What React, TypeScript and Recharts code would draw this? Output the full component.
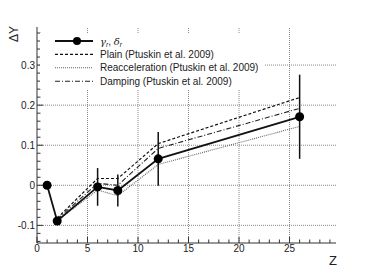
import React from 'react'
import { ComposedChart, Line, XAxis, YAxis, ReferenceLine, ErrorBar, Legend } from 'recharts'

// measured points (gamma, delta fit) with symmetric errors
const Z_DATA = [1, 2, 6, 8, 12, 26]
const DY_DATA = [0, -0.089, -0.004, -0.013, 0.066, 0.171]
const DY_ERR = [0, 0, 0.047, 0.04, 0.067, 0.105]

// Ptuskin et al. 2009 model curves
const Z_MODEL = [2, 6, 8, 12, 26]
const PLAIN = [-0.082, 0.017, 0.017, 0.104, 0.219]
const REACC = [-0.088, -0.012, -0.026, 0.052, 0.147]
const DAMPING = [-0.085, 0.005, 0.0, 0.092, 0.192]

const X_MAJOR = [0, 5, 10, 15, 20, 25]
const X_TICKS = Array.from({ length: 30 }, (_, i) => i)
const Y_MAJOR = [-0.1, 0, 0.1, 0.2, 0.3]
const Y_TICKS = Array.from({ length: 27 }, (_, i) => (-14 + 2 * i) / 100)

const FONT = '"Liberation Sans", Arial, sans-serif'

const measured = Z_DATA.map((z, i) => ({ z, y: DY_DATA[i], err: DY_ERR[i] }))
const plain = Z_MODEL.map((z, i) => ({ z, v: PLAIN[i] }))
const reacc = Z_MODEL.map((z, i) => ({ z, v: REACC[i] }))
const damping = Z_MODEL.map((z, i) => ({ z, v: DAMPING[i] }))

const MODELS = [
  { name: 'Plain (Ptuskin et al. 2009)', data: plain, stroke: '#111', dash: '3 2', width: 1.2 },
  { name: 'Reacceleration (Ptuskin et al. 2009)', data: reacc, stroke: '#666', dash: '1 1', width: 1.1 },
  { name: 'Damping (Ptuskin et al. 2009)', data: damping, stroke: '#222', dash: '5 2 1 2', width: 1.1 },
]

function XTick(props: any) {
  const { x, y, payload } = props
  const major = payload.value % 5 === 0
  return (
    <g>
      <line x1={x} x2={x} y1={y} y2={y - (major ? 6 : 3.5)} stroke="#333" />
      {major && (
        <text x={x} y={y + 9} textAnchor="middle" fontSize={10} fontFamily={FONT} fill="#222">
          {payload.value}
        </text>
      )}
    </g>
  )
}

function YTick(props: any) {
  const { x, y, payload } = props
  const major = Math.round(payload.value * 100) % 10 === 0
  return (
    <g>
      <line x1={x} x2={x + (major ? 6 : 3.5)} y1={y} y2={y} stroke="#333" />
      {major && (
        <text x={x - 2} y={y + 3.5} textAnchor="end" fontSize={10} fontFamily={FONT} fill="#222">
          {String(Math.round(payload.value * 10) / 10)}
        </text>
      )}
    </g>
  )
}

function LegendBox() {
  const rowY = [8, 21.4, 34.8, 48.2]
  return (
    <svg width={224} height={56} style={{ display: 'block', background: '#fff' }}>
      <line x1={15} x2={53} y1={rowY[0]} y2={rowY[0]} stroke="#111" strokeWidth={1.8} />
      <circle cx={37} cy={rowY[0]} r={4} fill="#000" />
      <text x={60} y={rowY[0] + 3.5} fontSize={10} fontFamily={FONT} fill="#222">
        <tspan fontStyle="italic" fontFamily="'DejaVu Serif', serif">γ</tspan>
        <tspan fontSize={6.5} dy={2.5} fontStyle="italic">r</tspan>
        <tspan dy={-2.5}>, </tspan>
        <tspan fontStyle="italic" fontFamily="'DejaVu Serif', serif">δ</tspan>
        <tspan fontSize={6.5} dy={2.5} fontStyle="italic">r</tspan>
      </text>
      {MODELS.map((m, i) => (
        <g key={m.name}>
          <line x1={15} x2={53} y1={rowY[i + 1]} y2={rowY[i + 1]} stroke={m.stroke}
            strokeWidth={m.width} strokeDasharray={m.dash} />
          <text x={60} y={rowY[i + 1] + 3.5} fontSize={10} fontFamily={FONT} fill="#222">{m.name}</text>
        </g>
      ))}
    </svg>
  )
}

export default function App() {
  return (
    <div style={{ position: 'relative', width: 374, height: 270, background: '#fff' }}>
      <style>{'body{margin:0}'}</style>
      <ComposedChart width={374} height={270} margin={{ top: 27, right: 38, bottom: 0, left: 0 }}>
        <XAxis
          dataKey="z"
          type="number"
          domain={[0, 29.6]}
          allowDataOverflow
          ticks={X_TICKS}
          interval={0}
          height={27}
          tickSize={0}
          tickMargin={0}
          tick={XTick}
          tickLine={false}
          axisLine={{ stroke: '#333' }}
          label={{ content: () => (
            <text x={333} y={265} textAnchor="middle" fontSize={13} fontFamily={FONT} fill="#222">Z</text>
          ) }}
        />
        <XAxis
          xAxisId="top"
          orientation="top"
          dataKey="z"
          type="number"
          domain={[0, 29.6]}
          allowDataOverflow
          height={0}
          tick={false}
          tickLine={false}
          axisLine={{ stroke: '#888', strokeWidth: 1.6 }}
        />
        <YAxis
          type="number"
          domain={[-0.144, 0.395]}
          allowDataOverflow
          ticks={Y_TICKS}
          interval={0}
          width={37}
          tickSize={0}
          tickMargin={0}
          tick={YTick}
          tickLine={false}
          axisLine={{ stroke: '#333' }}
          label={{ content: () => (
            <text x={18} y={34} transform="rotate(-90 18 34)" textAnchor="middle" fontSize={12}
              fontFamily={FONT} fill="#222">ΔY</text>
          ) }}
        />
        <YAxis
          yAxisId="right"
          orientation="right"
          type="number"
          domain={[-0.144, 0.395]}
          allowDataOverflow
          width={0}
          tick={false}
          tickLine={false}
          axisLine={{ stroke: '#888' }}
        />
        {X_MAJOR.slice(1).map((v) => (
          <ReferenceLine key={`gx${v}`} x={v} stroke="#888" strokeDasharray="1 1" />
        ))}
        {Y_MAJOR.map((v) => (
          <ReferenceLine key={`gy${v}`} y={v} stroke="#888" strokeDasharray="1 1" />
        ))}
        <Legend
          layout="vertical"
          align="center"
          verticalAlign="middle"
          wrapperStyle={{ left: 40, top: 33, width: 224, height: 56 }}
          content={() => <LegendBox />}
        />
        {MODELS.map((m) => (
          <Line
            key={m.name}
            data={m.data}
            dataKey="v"
            type="linear"
            stroke={m.stroke}
            strokeWidth={m.width}
            strokeDasharray={m.dash}
            dot={false}
            activeDot={false}
            isAnimationActive={false}
          />
        ))}
        <Line
          data={measured}
          dataKey="y"
          type="linear"
          stroke="#111"
          strokeWidth={1.8}
          dot={{ r: 4.5, fill: '#000', stroke: '#000', strokeWidth: 0 }}
          activeDot={false}
          isAnimationActive={false}
        >
          <ErrorBar dataKey="err" width={0} stroke="#111" strokeWidth={1.5} direction="y" isAnimationActive={false} />
        </Line>
      </ComposedChart>
    </div>
  )
}
